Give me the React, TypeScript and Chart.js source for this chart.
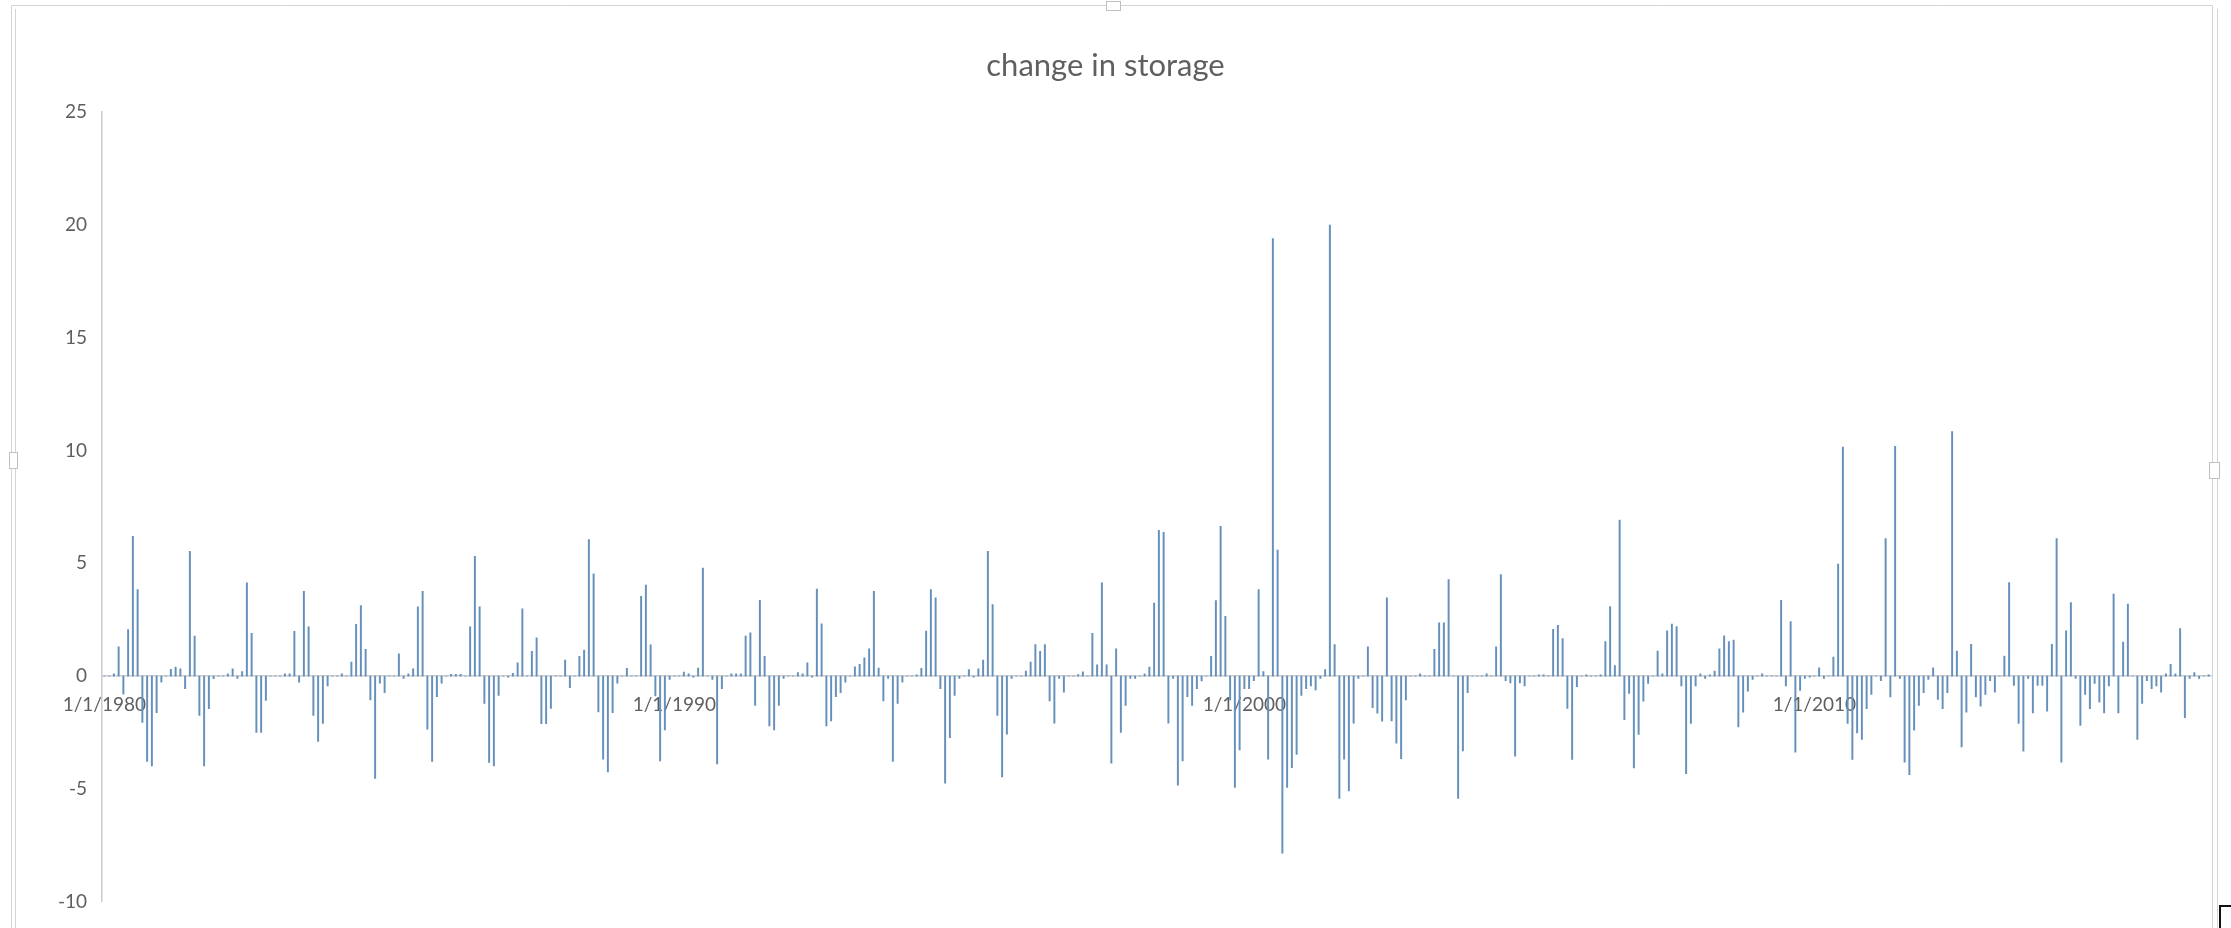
import React, { useEffect, useRef } from "react";
import { Chart, registerables } from "chart.js";

Chart.register(...registerables);

// ---- data: monthly change in storage, Jan 1980 .. Dec 2016 ----
const START_YEAR = 1980;
const y1980 = [0, 0, 0.1, 1.3, -0.8, 2.06, 6.2, 3.83, -2.06, -3.79, -3.98, -1.62];
const y1981 = [-0.27, 0, 0.3, 0.4, 0.32, -0.56, 5.53, 1.77, -1.74, -3.98, -1.45, -0.12];
const y1982 = [0, 0, 0.1, 0.32, -0.1, 0.2, 4.13, 1.89, -2.5, -2.5, -1.08, 0];
const y1983 = [0, 0, 0.1, 0.1, 1.98, -0.27, 3.76, 2.18, -1.74, -2.9, -2.1, -0.44];
const y1984 = [0, 0, 0.1, 0, 0.62, 2.29, 3.13, 1.18, -1.06, -4.54, -0.32, -0.74];
const y1985 = [0, 0, 0.99, -0.1, 0.1, 0.32, 3.07, 3.76, -2.36, -3.79, -0.91, -0.32];
const y1986 = [0, 0.08, 0.08, 0.08, 0, 2.18, 5.31, 3.07, -1.21, -3.83, -3.98, -0.86];
const y1987 = [0, -0.05, 0.12, 0.59, 2.98, 0, 1.1, 1.7, -2.11, -2.11, -1.43, 0];
const y1988 = [0, 0.71, -0.52, 0, 0.88, 1.15, 6.05, 4.53, -1.59, -3.69, -4.25, -1.62];
const y1989 = [-0.32, 0, 0.34, 0, 0, 3.54, 4.03, 1.39, -0.88, -3.76, -2.39, -0.15];
const y1990 = [0, 0, 0.18, 0.1, -0.05, 0.35, 4.79, 0, -0.15, -3.9, -0.56, 0];
const y1991 = [0.1, 0.1, 0.1, 1.77, 1.92, -1.3, 3.36, 0.88, -2.21, -2.39, -1.3, -0.1];
const y1992 = [0, 0, 0.15, 0.1, 0.59, -0.05, 3.86, 2.32, -2.21, -1.99, -0.91, -0.74];
const y1993 = [-0.27, 0, 0.41, 0.52, 0.81, 1.21, 3.76, 0.35, -1.1, -0.1, -3.79, -1.21];
const y1994 = [-0.27, 0, 0, 0.05, 0.34, 1.99, 3.83, 3.47, -0.56, -4.75, -2.73, -0.86];
const y1995 = [-0.1, 0, 0.29, -0.05, 0.32, 0.71, 5.53, 3.17, -1.74, -4.47, -2.58, -0.1];
const y1996 = [0, 0, 0.22, 0.62, 1.4, 1.1, 1.4, -1.1, -2.09, -0.1, -0.71, 0];
const y1997 = [0, 0.07, 0.19, 0, 1.89, 0.5, 4.13, 0.5, -3.86, 1.21, -2.5, -1.3];
const y1998 = [-0.1, -0.1, 0, 0.1, 0.4, 3.24, 6.46, 6.37, -2.09, -0.1, -4.84, -3.76];
const y1999 = [-0.91, -1.3, -0.56, -0.22, 0, 0.88, 3.35, 6.64, 2.65, -1.06, -4.94, -3.27];
const y2000 = [-0.56, -0.56, -0.2, 3.83, 0.2, -3.69, 19.4, 5.58, -7.85, -4.94, -4.06, -3.47];
const y2001 = [-0.86, -0.56, -0.44, -0.62, -0.1, 0.29, 20.0, 1.4, -5.43, -3.69, -5.09, -2.09];
const y2002 = [-0.1, 0, 1.3, -1.4, -1.65, -2.0, 3.47, -1.99, -2.98, -3.66, -1.06, 0];
const y2003 = [0, 0.1, 0, 0, 1.18, 2.36, 2.36, 4.28, 0, -5.43, -3.32, -0.74];
const y2004 = [0, 0, 0, 0.1, 0, 1.3, 4.5, -0.2, -0.3, -3.55, -0.3, -0.44];
const y2005 = [0, 0, 0.05, 0.05, 0, 2.07, 2.25, 1.66, -1.43, -3.7, -0.47, 0];
const y2006 = [0.05, 0, 0, 0.05, 1.53, 3.08, 0.47, 6.92, -1.93, -0.77, -4.07, -2.59];
const y2007 = [-1.11, -0.33, 0, 1.11, 0.1, 2.0, 2.3, 2.19, -0.44, -4.33, -2.1, -0.44];
const y2008 = [0.1, -0.1, 0.05, 0.22, 1.21, 1.78, 1.53, 1.59, -2.25, -1.6, -0.67, -0.15];
const y2009 = [0, 0.1, 0, 0, 0, 3.36, -0.44, 2.41, -3.38, -0.64, -0.1, -0.05];
const y2010 = [0, 0.37, -0.1, 0, 0.84, 4.96, 10.15, -2.1, -3.7, -2.52, -2.81, -1.45];
const y2011 = [-0.81, 0, -0.2, 6.1, -0.92, 10.19, -0.1, -3.82, -4.37, -2.4, -1.3, -0.74];
const y2012 = [-0.15, 0.37, -1.04, -1.45, -0.74, 10.84, 1.11, -3.14, -1.6, 1.41, -0.92, -1.33];
const y2013 = [-0.81, -0.2, -0.71, 0, 0.89, 4.15, -0.41, -2.1, -3.33, -0.1, -1.63, -0.41];
const y2014 = [-0.41, -1.56, 1.41, 6.1, -3.82, 2.0, 3.26, -0.1, -2.19, -0.81, -1.45, -0.33];
const y2015 = [-1.16, -1.63, -0.44, 3.63, -1.63, 1.51, 3.19, 0, -2.81, -1.21, -0.2, -0.56];
const y2016 = [-0.44, -0.71, 0.1, 0.52, 0.1, 2.1, -1.85, -0.1, 0.15, -0.1, 0, 0.05];

const yearlySeries = [
  y1980, y1981, y1982, y1983, y1984, y1985, y1986, y1987, y1988, y1989,
  y1990, y1991, y1992, y1993, y1994, y1995, y1996, y1997, y1998, y1999,
  y2000, y2001, y2002, y2003, y2004, y2005, y2006, y2007, y2008, y2009,
  y2010, y2011, y2012, y2013, y2014, y2015, y2016,
];
const storageChange: number[] = yearlySeries.flat();

// category labels (m/d/yyyy)
const dateLabels: string[] = storageChange.map((_, i) => {
  const year = START_YEAR + Math.floor(i / 12);
  const month = (i % 12) + 1;
  return `${month}/1/${year}`;
});
const shownDateLabels = ["1/1/1980", "1/1/1990", "1/1/2000", "1/1/2010"];
const yTickValues = [-10, -5, 0, 5, 10, 15, 20, 25];

const TITLE = "change in storage";
const BAR_COLOR = "#6590BB";
const TEXT_COLOR = "#5f5f5f";
const AXIS_COLOR = "#cccccc";
const FONT = "Lato, 'Open Sans', sans-serif";

const framePlugin = {
  id: "excelFrame",
  afterDraw(chart: any) {
    const ctx = chart.ctx as CanvasRenderingContext2D;
    ctx.save();
    ctx.strokeStyle = "#d4d4d4";
    ctx.lineWidth = 1;
    ctx.beginPath();
    ctx.moveTo(11.5, 928);
    ctx.lineTo(11.5, 5.5);
    ctx.lineTo(2212.5, 5.5);
    ctx.lineTo(2212.5, 928);
    ctx.moveTo(15.5, 928);
    ctx.lineTo(15.5, 9);
    ctx.moveTo(2217.5, 928);
    ctx.lineTo(2217.5, 9);
    ctx.stroke();
    ctx.fillStyle = "#ffffff";
    ctx.strokeStyle = "#c0c0c0";
    const handles = [
      [1106, 1, 14, 9],
      [9, 452, 8, 16],
      [2209, 462, 10, 16],
    ];
    for (const [x, y, w, h] of handles) {
      ctx.fillRect(x, y, w, h);
      ctx.strokeRect(x + 0.5, y + 0.5, w, h);
    }
    ctx.strokeStyle = "#111111";
    ctx.lineWidth = 2;
    ctx.beginPath();
    ctx.moveTo(2220, 928);
    ctx.lineTo(2220, 906);
    ctx.lineTo(2231, 906);
    ctx.stroke();
    ctx.restore();
  },
};

export default function App() {
  const canvasRef = useRef<HTMLCanvasElement | null>(null);

  useEffect(() => {
    document.body.style.margin = "0";
    const canvas = canvasRef.current;
    if (!canvas) return;
    const chart = new Chart(canvas, {
      type: "bar",
      data: {
        labels: dateLabels,
        datasets: [
          {
            label: TITLE,
            data: storageChange,
            backgroundColor: BAR_COLOR,
            borderWidth: 0,
            barThickness: 1.3,
          },
        ],
      },
      options: {
        responsive: false,
        animation: false,
        devicePixelRatio: 1,
        layout: { padding: { left: 0, right: 20, top: 0, bottom: 26 } },
        plugins: {
          legend: { display: false },
          tooltip: { enabled: false },
          title: {
            display: true,
            text: TITLE,
            color: TEXT_COLOR,
            font: { family: FONT, size: 31, weight: "normal" },
            padding: { top: 47, bottom: 28 },
          },
        },
        scales: {
          x: {
            position: { y: 0 } as any,
            grid: { display: false, drawTicks: false },
            border: { display: true, color: AXIS_COLOR, width: 1.5 },
            ticks: {
              autoSkip: false,
              maxRotation: 0,
              minRotation: 0,
              color: TEXT_COLOR,
              font: { family: FONT, size: 19 },
              padding: 17,
              callback: (_v: any, i: number) =>
                shownDateLabels.includes(dateLabels[i]) ? dateLabels[i] : "",
            },
          },
          y: {
            min: -10,
            max: 25,
            afterBuildTicks: (scale: any) => {
              scale.ticks = yTickValues.map((v) => ({ value: v }));
            },
            afterFit: (scale: any) => {
              scale.width = 102;
            },
            grid: { display: false, drawTicks: false },
            border: { display: true, color: AXIS_COLOR, width: 1.5 },
            ticks: {
              color: TEXT_COLOR,
              font: { family: FONT, size: 19 },
              padding: 15,
            },
          },
        },
      },
      plugins: [framePlugin],
    });
    return () => chart.destroy();
  }, []);

  return (
    <div style={{ width: 2231, height: 928, position: "relative", background: "#fff" }}>
      <canvas ref={canvasRef} width={2231} height={928} style={{ display: "block" }} />
    </div>
  );
}
